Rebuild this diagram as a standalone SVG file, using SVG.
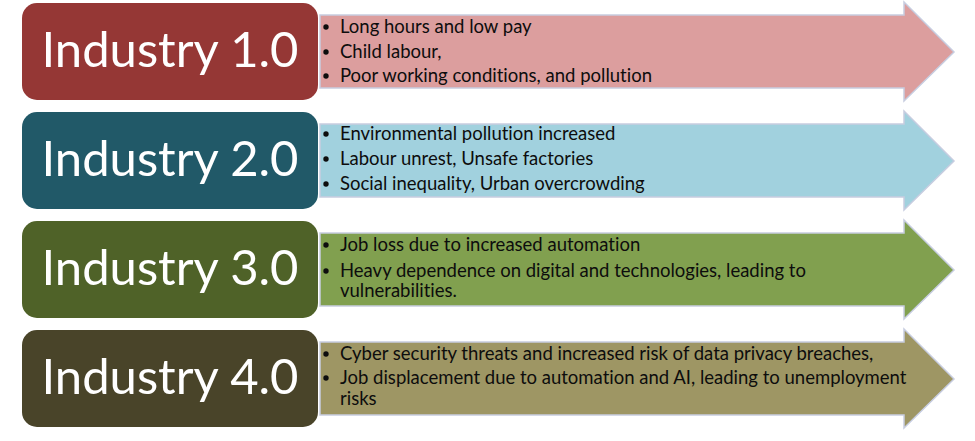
<svg xmlns="http://www.w3.org/2000/svg" width="975" height="441" viewBox="0 0 975 441">
<style>
.box{stroke:none}
.arrow{stroke:#c7cde0;stroke-width:1.5}
.title{font-family:Lato,"Liberation Sans",sans-serif;font-size:49px;fill:#ffffff;text-anchor:middle}
.txt{font-family:Lato,"Liberation Sans",sans-serif;font-size:18.5px;fill:#0d0d0d;font-variant-ligatures:none;font-feature-settings:"liga" 0}
.dot{fill:#0d0d0d}
</style>
<rect width="975" height="441" fill="#ffffff"/>
<g id="connectors">
<polygon id="arrow1" class="arrow" fill="#dc9e9e" points="320,15 904,15 904,2 954,52 904,101 904,88 320,88"/>
<polygon id="arrow2" class="arrow" fill="#a1d1de" points="320,124 904,124 904,111 954,161 904,210 904,197 320,197"/>
<polygon id="arrow3" class="arrow" fill="#81a04f" points="320,233 904,233 904,220 954,270 904,319 904,306 320,306"/>
<polygon id="arrow4" class="arrow" fill="#9e9664" points="320,342 904,342 904,329 954,379 904,428 904,415 320,415"/>
</g>
<g id="node1">
<rect class="box" x="22" y="3" width="296" height="97" rx="15" fill="#953735"/>
<text class="title" x="170" y="67">Industry 1.0</text>
</g>
<g id="list1">
<circle class="dot" cx="326" cy="27" r="2.7"/>
<text class="txt" x="340" y="33">Long hours and low pay</text>
<circle class="dot" cx="326" cy="52" r="2.7"/>
<text class="txt" x="340" y="58">Child labour,</text>
<circle class="dot" cx="326" cy="76" r="2.7"/>
<text class="txt" x="340" y="82">Poor working conditions, and pollution</text>
</g>
<g id="node2">
<rect class="box" x="22" y="112" width="296" height="97" rx="15" fill="#215968"/>
<text class="title" x="170" y="176">Industry 2.0</text>
</g>
<g id="list2">
<circle class="dot" cx="326" cy="134" r="2.7"/>
<text class="txt" x="340" y="140">Environmental pollution increased</text>
<circle class="dot" cx="326" cy="159" r="2.7"/>
<text class="txt" x="340" y="165">Labour unrest, Unsafe factories</text>
<circle class="dot" cx="326" cy="184" r="2.7"/>
<text class="txt" x="340" y="190">Social inequality, Urban overcrowding</text>
</g>
<g id="node3">
<rect class="box" x="22" y="221" width="296" height="97" rx="15" fill="#4f6228"/>
<text class="title" x="170" y="285">Industry 3.0</text>
</g>
<g id="list3">
<circle class="dot" cx="326" cy="245" r="2.7"/>
<text class="txt" x="340" y="251">Job loss due to increased automation</text>
<circle class="dot" cx="326" cy="271" r="2.7"/>
<text class="txt" x="340" y="277">Heavy dependence on digital and technologies, leading to</text>
<text class="txt" x="340" y="297">vulnerabilities.</text>
</g>
<g id="node4">
<rect class="box" x="22" y="330" width="296" height="97" rx="15" fill="#494429"/>
<text class="title" x="170" y="394">Industry 4.0</text>
</g>
<g id="list4">
<circle class="dot" cx="326" cy="354" r="2.7"/>
<text class="txt" x="340" y="360">Cyber security threats and increased risk of data privacy breaches,</text>
<circle class="dot" cx="326" cy="378" r="2.7"/>
<text class="txt" x="340" y="384">Job displacement due to automation and AI, leading to unemployment</text>
<text class="txt" x="340" y="405">risks</text>
</g>
</svg>
